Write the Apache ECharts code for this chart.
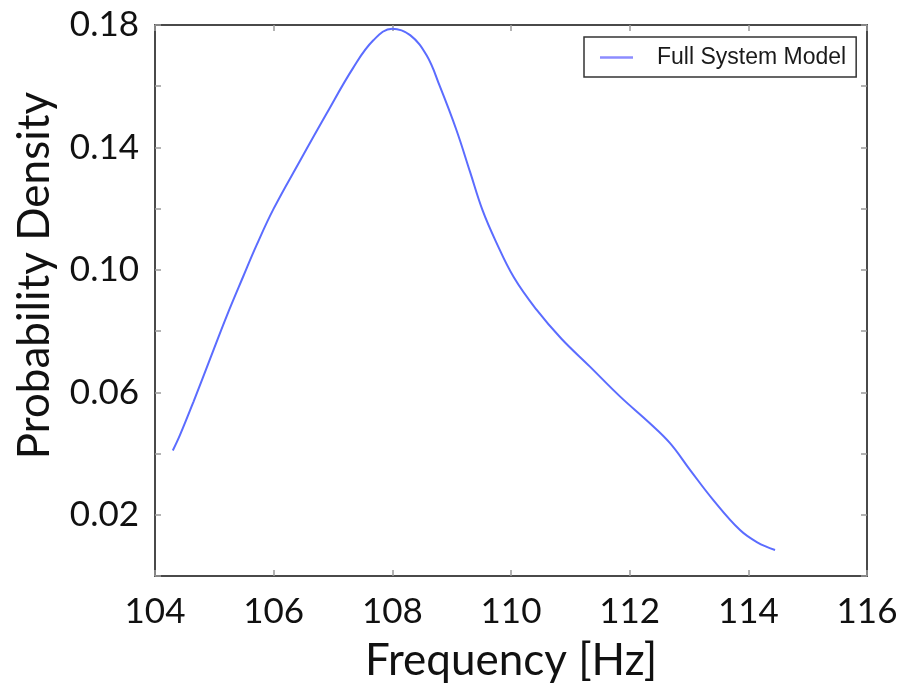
<!DOCTYPE html>
<html>
<head>
<meta charset="utf-8">
<script src="https://cdn.jsdelivr.net/npm/echarts@6/dist/echarts.min.js"></script>
<style>
html,body{margin:0;padding:0;background:#fff;}
#chart{width:904px;height:690px;}
</style>
</head>
<body>
<div id="chart"></div>
<script>
// Data
const seriesName = 'Full System Model';
const freq = [104.30,104.42,104.65,104.93,105.21,105.49,105.71,106.00,106.44,106.89,107.34,107.68,108.00,108.30,108.58,108.80,109.08,109.31,109.52,109.74,110.05,110.43,110.85,111.33,111.84,112.34,112.68,113.02,113.41,113.86,114.15,114.45];
const density = [0.041,0.046,0.057,0.071,0.085,0.098,0.108,0.120,0.1355,0.1510,0.1660,0.1750,0.1788,0.1767,0.170,0.160,0.1457,0.1320,0.1195,0.1095,0.0975,0.087,0.0775,0.0684,0.0586,0.0499,0.0434,0.0346,0.0248,0.0150,0.0110,0.0085];
const xTicks = {min:104, max:116, interval:2};
const yTicks = {min:0, max:0.18, interval:0.02};

const font = 'Lato';
const chart = echarts.init(document.getElementById('chart'), null, {renderer:'canvas'});
function axisLine(){ return {show:true, onZero:false, lineStyle:{color:'#4a4a4a', width:2}}; }
function tick(){ return {show:true, inside:true, length:6, lineStyle:{color:'#9a9a9a', width:1.5}}; }
chart.setOption({
  animation:false,
  backgroundColor:'#fff',
  grid:{left:155, right:37, top:25, bottom:114, containLabel:false},
  legend:{
    left:584, top:37,
    padding:[9,10,8,16],
    borderColor:'#333', borderWidth:1.5,
    icon:'rect', itemWidth:33, itemHeight:2.5,
    textStyle:{fontFamily:'Liberation Sans', fontSize:23, color:'#1a1a1a', padding:[0,0,0,19]},
    data:[{name:seriesName, itemStyle:{color:'#8c8cff'}}]
  },
  xAxis:[{
    type:'value', min:xTicks.min, max:xTicks.max, interval:xTicks.interval,
    position:'bottom',
    axisLine:axisLine(), axisTick:tick(), splitLine:{show:false},
    axisLabel:{fontFamily:font, fontSize:35, color:'#111', margin:18},
    name:'Frequency [Hz]', nameLocation:'middle', nameGap:63,
    nameTextStyle:{fontFamily:font, fontSize:44, color:'#111'}
  },{
    type:'value', min:xTicks.min, max:xTicks.max, interval:xTicks.interval,
    position:'top',
    axisLine:axisLine(), axisTick:tick(), axisLabel:{show:false}, splitLine:{show:false}
  }],
  yAxis:[{
    type:'value', min:yTicks.min, max:yTicks.max, interval:yTicks.interval,
    position:'left',
    axisLine:axisLine(), axisTick:tick(), splitLine:{show:false},
    axisLabel:{fontFamily:font, fontSize:35, color:'#111', margin:16,
      formatter:function(v){ const k = Math.round(v/0.02); return (k%2===1) ? v.toFixed(2) : ''; }},
    name:'Probability Density', nameLocation:'middle', nameGap:98,
    nameTextStyle:{fontFamily:font, fontSize:44, color:'#111', padding:[0,0,0,50]}
  },{
    type:'value', min:yTicks.min, max:yTicks.max, interval:yTicks.interval,
    position:'right',
    axisLine:axisLine(), axisTick:tick(), axisLabel:{show:false}, splitLine:{show:false}
  }],
  series:[{
    name:seriesName, type:'line', smooth:0.4, symbol:'none',
    xAxisIndex:0, yAxisIndex:0,
    lineStyle:{color:'#5b6cff', width:2},
    itemStyle:{color:'#5b6cff'},
    data:freq.map((f,i)=>[f, density[i]])
  }]
});
</script>
</body>
</html>
